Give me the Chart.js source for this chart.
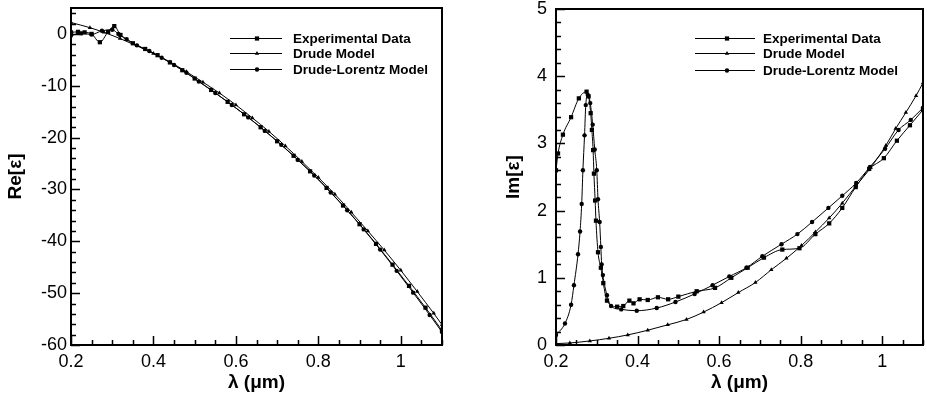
<!DOCTYPE html>
<html>
<head>
<meta charset="utf-8">
<script src="https://cdn.jsdelivr.net/npm/chart.js@4.4.0/dist/chart.umd.min.js"></script>
<style>
  html, body { margin: 0; padding: 0; background: #fff; }
  #wrap { position: relative; width: 927px; height: 400px; overflow: hidden; }
  #leftBox { position: absolute; left: 0; top: 0; }
  #rightBox { position: absolute; left: 463px; top: 0; }
  canvas { display: block; }
</style>
</head>
<body>
<div id="wrap">
  <div id="leftBox"><canvas id="reChart" width="463" height="400"></canvas></div>
  <div id="rightBox"><canvas id="imChart" width="464" height="400"></canvas></div>
</div>
<script>
// ---- data ----
const seriesNames = ['Experimental Data', 'Drude Model', 'Drude-Lorentz Model'];

// Re[eps]
const reExpLam = [0.2, 0.217, 0.233, 0.25, 0.27, 0.29, 0.305, 0.32, 0.35, 0.38, 0.41, 0.44, 0.47, 0.5, 0.54, 0.58, 0.62, 0.66, 0.7, 0.74, 0.78, 0.82, 0.86, 0.9, 0.94, 0.98, 1.02, 1.06, 1.1];
const reExpVal = [0.3, 0.4, 0.3, 0.0, -1.6, 0.4, 1.5, -0.2, -1.8, -2.9, -4.1, -5.5, -7.0, -8.6, -10.8, -13.1, -15.5, -18.0, -20.7, -23.5, -26.5, -29.7, -33.1, -36.7, -40.5, -44.5, -48.6, -52.8, -57.2];

const reDrudeLam = [0.2, 0.246, 0.28, 0.319, 0.36, 0.4, 0.44, 0.48, 0.52, 0.56, 0.6, 0.64, 0.68, 0.72, 0.76, 0.8, 0.84, 0.88, 0.92, 0.96, 1.0, 1.04, 1.08, 1.1];
const reDrudeVal = [2.2, 1.2, 0.3, -0.9, -2.3, -3.8, -5.4, -7.3, -9.3, -11.4, -13.7, -16.2, -18.8, -21.6, -24.6, -27.7, -30.9, -34.4, -38.0, -41.7, -45.6, -49.7, -53.9, -56.1];

const reDlLam = [0.2, 0.225, 0.25, 0.275, 0.3, 0.315, 0.335, 0.36, 0.39, 0.42, 0.45, 0.48, 0.51, 0.55, 0.59, 0.63, 0.67, 0.71, 0.75, 0.79, 0.83, 0.87, 0.91, 0.95, 0.99, 1.03, 1.07, 1.1];
const reDlVal = [-0.3, 0.1, -0.1, 0.6, 0.8, 0.0, -1.0, -2.2, -3.3, -4.6, -6.0, -7.5, -9.2, -11.4, -13.7, -16.1, -18.7, -21.4, -24.3, -27.3, -30.6, -34.0, -37.7, -41.6, -45.7, -49.9, -54.2, -57.5];

// Im[eps]
const imExpLam = [0.2, 0.205, 0.217, 0.237, 0.256, 0.275, 0.28, 0.285, 0.288, 0.291, 0.293, 0.296, 0.298, 0.303, 0.31, 0.316, 0.325, 0.35, 0.365, 0.38, 0.39, 0.405, 0.425, 0.45, 0.475, 0.5, 0.545, 0.59, 0.63, 0.67, 0.71, 0.755, 0.797, 0.836, 0.87, 0.902, 0.935, 0.968, 1.004, 1.036, 1.068, 1.1];
const imExpVal = [2.6, 2.85, 3.13, 3.39, 3.67, 3.77, 3.7, 3.45, 3.2, 2.9, 2.55, 2.15, 1.85, 1.38, 1.15, 0.92, 0.66, 0.57, 0.58, 0.66, 0.62, 0.68, 0.67, 0.71, 0.68, 0.72, 0.8, 0.85, 1.0, 1.15, 1.3, 1.42, 1.44, 1.65, 1.81, 2.04, 2.35, 2.62, 2.78, 3.04, 3.27, 3.5];

const imDrudeLam = [0.2, 0.234, 0.283, 0.33, 0.376, 0.425, 0.474, 0.52, 0.562, 0.606, 0.647, 0.689, 0.728, 0.765, 0.802, 0.836, 0.87, 0.902, 0.936, 0.972, 1.009, 1.033, 1.058, 1.083, 1.1];
const imDrudeVal = [0.02, 0.03, 0.06, 0.1, 0.15, 0.22, 0.3, 0.38, 0.49, 0.63, 0.78, 0.93, 1.12, 1.29, 1.48, 1.68, 1.89, 2.11, 2.37, 2.64, 2.97, 3.22, 3.46, 3.71, 3.9];

const imDlLam = [0.2, 0.222, 0.237, 0.244, 0.254, 0.259, 0.263, 0.266, 0.27, 0.273, 0.278, 0.284, 0.29, 0.295, 0.3, 0.303, 0.307, 0.31, 0.312, 0.315, 0.325, 0.335, 0.36, 0.398, 0.447, 0.493, 0.54, 0.584, 0.625, 0.667, 0.706, 0.753, 0.792, 0.828, 0.868, 0.902, 0.936, 0.97, 1.007, 1.04, 1.07, 1.1];
const imDlVal = [0.15, 0.32, 0.6, 0.89, 1.35, 1.69, 2.1, 2.6, 3.12, 3.57, 3.72, 3.6, 3.28, 2.91, 2.6, 2.17, 1.83, 1.46, 1.2, 1.04, 0.74, 0.58, 0.53, 0.51, 0.55, 0.64, 0.76, 0.89, 1.02, 1.15, 1.32, 1.5, 1.65, 1.83, 2.04, 2.22, 2.41, 2.65, 2.92, 3.2, 3.35, 3.53];

// tick labels
const xTickVals = [0.2, 0.4, 0.6, 0.8, 1.0];
const reTickVals = [0, -10, -20, -30, -40, -50, -60];
const imTickVals = [0, 1, 2, 3, 4, 5];

// ---- drawing ----
const FONT = "'Liberation Sans', Arial, Helvetica, sans-serif";
Chart.defaults.font.family = FONT;
Chart.defaults.color = '#000';

function pts(lam, val) {
    return lam.map((l, i) => ({ x: l, y: val[i] }));
}

function fmt(v) {
    return String(Number(v.toFixed(1)));
}

function drawMarker(ctx, style, x, y, r) {
    ctx.beginPath();
    if (style === 'rect') {
        const s = r * Math.SQRT1_2;
        ctx.rect(x - s, y - s, 2 * s, 2 * s);
    } else if (style === 'triangle') {
        ctx.moveTo(x, y - r);
        ctx.lineTo(x + r * 0.87, y + r * 0.5);
        ctx.lineTo(x - r * 0.87, y + r * 0.5);
        ctx.closePath();
    } else {
        ctx.arc(x, y, r, 0, Math.PI * 2);
    }
    ctx.fill();
}

// inward ticks + frame box
function framePlugin(cfg) {
    return {
        id: 'frameTicks',
        afterDraw(chart) {
            const { ctx, chartArea: a, scales: { x, y } } = chart;
            ctx.save();
            ctx.strokeStyle = '#000';
            ctx.lineWidth = 1.5;
            ctx.beginPath();
            for (let v = x.min; v <= x.max + 1e-9; v += cfg.xMinor) {
                const major = xTickVals.some(t => Math.abs(t - v) < 1e-6);
                const px = Math.round(x.getPixelForValue(v)) + 0.5;
                ctx.moveTo(px, a.bottom);
                ctx.lineTo(px, a.bottom - (major ? 9 : 5));
            }
            for (let v = y.min; v <= y.max + 1e-9; v += cfg.yMinor) {
                const major = cfg.yMajor.some(t => Math.abs(t - v) < 1e-6);
                const py = Math.round(y.getPixelForValue(v)) + 0.5;
                ctx.moveTo(a.left, py);
                ctx.lineTo(a.left + (major ? 9 : 5), py);
            }
            ctx.stroke();
            ctx.lineWidth = 2;
            ctx.strokeRect(a.left, a.top, a.right - a.left, a.bottom - a.top);
            ctx.restore();
        }
    };
}

// legend drawn like the reference: line sample with marker in the middle
function legendPlugin(box) {
    return {
        id: 'refLegend',
        afterDraw(chart) {
            const ctx = chart.ctx;
            ctx.save();
            ctx.font = 'bold 13.5px ' + FONT;
            ctx.textBaseline = 'middle';
            ctx.fillStyle = '#000';
            ctx.strokeStyle = '#000';
            chart.data.datasets.forEach((ds, i) => {
                const y = box.rows[i];
                ctx.lineWidth = 1;
                ctx.beginPath();
                ctx.moveTo(box.x0, y + 0.5);
                ctx.lineTo(box.x1, y + 0.5);
                ctx.stroke();
                drawMarker(ctx, ds.pointStyle, box.xm, y + 0.5, ds.pointRadius);
                ctx.fillText(ds.label, box.tx, y + 1);
            });
            ctx.restore();
        }
    };
}

function makeDatasets(expP, drudeP, dlP) {
    const base = {
        borderColor: '#000',
        backgroundColor: '#000',
        pointBackgroundColor: '#000',
        pointBorderColor: '#000',
        pointBorderWidth: 0,
        borderWidth: 1,
        cubicInterpolationMode: 'monotone',
        fill: false
    };
    return [
        Object.assign({ label: seriesNames[0], data: expP, pointStyle: 'rect', pointRadius: 3 }, base),
        Object.assign({ label: seriesNames[1], data: drudeP, pointStyle: 'triangle', pointRadius: 2.5 }, base),
        Object.assign({ label: seriesNames[2], data: dlP, pointStyle: 'circle', pointRadius: 2.2 }, base)
    ];
}

function makeChart(canvasId, cfg) {
    const tickFont = { size: 18, family: FONT };
    const titleFont = { size: 19, weight: 'bold', family: FONT };
    return new Chart(document.getElementById(canvasId).getContext('2d'), {
        type: 'line',
        data: { datasets: cfg.datasets },
        options: {
            responsive: false,
            animation: false,
            devicePixelRatio: 1,
            layout: { padding: cfg.padding },
            plugins: { legend: { display: false }, tooltip: { enabled: false } },
            scales: {
                x: {
                    type: 'linear',
                    min: 0.2,
                    max: 1.1,
                    afterBuildTicks: s => { s.ticks = xTickVals.map(v => ({ value: v })); },
                    afterFit: s => { s.height = 55; s.paddingLeft = 0; s.paddingRight = 0; },
                    grid: { display: false, drawTicks: false },
                    border: { display: false },
                    ticks: { font: tickFont, color: '#000', padding: 6, maxRotation: 0, autoSkip: false, callback: v => fmt(v) },
                    title: { display: true, text: 'λ (μm)', font: titleFont, color: '#000', padding: { top: 6, bottom: 6 } }
                },
                y: {
                    type: 'linear',
                    min: cfg.yMin,
                    max: cfg.yMax,
                    afterBuildTicks: s => { s.ticks = cfg.yTicks.map(v => ({ value: v })); },
                    afterFit: s => { s.width = cfg.yWidth; s.paddingTop = 0; s.paddingBottom = 0; },
                    grid: { display: false, drawTicks: false },
                    border: { display: false },
                    ticks: { font: tickFont, color: '#000', padding: cfg.yPad, autoSkip: false, callback: v => fmt(v) },
                    title: { display: true, text: cfg.yTitle, font: titleFont, color: '#000', padding: { top: 4, bottom: 4 } }
                }
            }
        },
        plugins: [framePlugin(cfg.ticks), legendPlugin(cfg.legend)]
    });
}

makeChart('reChart', {
    datasets: makeDatasets(pts(reExpLam, reExpVal), pts(reDrudeLam, reDrudeVal), pts(reDlLam, reDlVal)),
    padding: { top: 8, right: 21, left: 0, bottom: 0 },
    yMin: -60, yMax: 5, yTicks: reTickVals, yWidth: 71, yPad: 4, yTitle: 'Re[ε]',
    ticks: { xMinor: 0.05, yMinor: 2, yMajor: reTickVals },
    legend: { x0: 230, x1: 282, xm: 257, tx: 293, rows: [38, 53, 69] }
});

makeChart('imChart', {
    datasets: makeDatasets(pts(imExpLam, imExpVal), pts(imDrudeLam, imDrudeVal), pts(imDlLam, imDlVal)),
    padding: { top: 9, right: 3, left: 35, bottom: 0 },
    yMin: 0, yMax: 5, yTicks: imTickVals, yWidth: 58, yPad: 9, yTitle: 'Im[ε]',
    ticks: { xMinor: 0.05, yMinor: 0.2, yMajor: imTickVals },
    legend: { x0: 232, x1: 292, xm: 264, tx: 300, rows: [38, 53, 70] }
});
</script>
</body>
</html>
